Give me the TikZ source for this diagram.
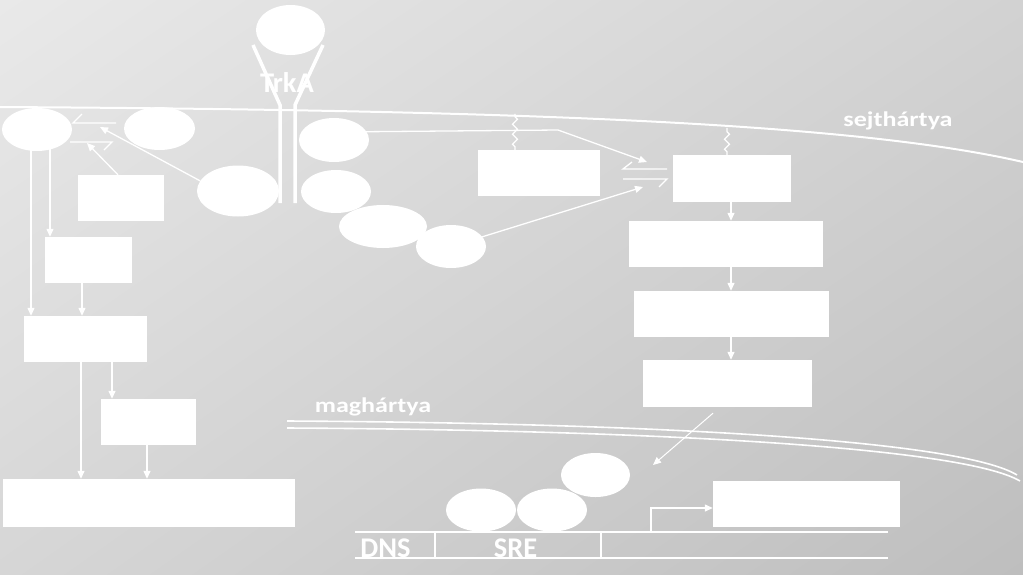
\documentclass[tikz,border=0pt]{standalone}
\usepackage{fontspec}
\setmainfont{Carlito}
\usetikzlibrary{shapes.geometric,arrows.meta,decorations.pathmorphing,calc,shadings}
\definecolor{bgUL}{HTML}{E9E9E9}
\definecolor{bgUR}{HTML}{D2D2D2}
\definecolor{bgLL}{HTML}{D6D6D6}
\definecolor{bgLR}{HTML}{BEBEBE}
\begin{document}
\begin{tikzpicture}[x=1pt,y=-1pt,
  ell/.style={ellipse, fill=white, draw=none, inner sep=0pt},
  box/.style={rectangle, fill=white, draw=none, inner sep=0pt},
  wh/.style 2 args={minimum width=#1pt, minimum height=#2pt},
  wire/.style={white, line width=1.3pt},
  arr/.style={wire, -{Triangle[length=8pt,width=7pt]}},
  mem/.style={white, line width=2pt},
  recep/.style={white, line width=3.5pt},
  zz/.style={wire, decorate, decoration={zigzag, amplitude=2.5pt, segment length=10pt, pre length=3pt, post length=3pt}},
  memlbl/.style={text=white, font=\bfseries\fontsize{21}{23}\selectfont, inner sep=0pt},
  biglbl/.style={text=white, font=\bfseries\fontsize{28.5}{30}\selectfont, inner sep=0pt}
]
\useasboundingbox (0,0) rectangle (1023,574);
\shade[upper left=bgUL, upper right=bgUR, lower left=bgLL, lower right=bgLR] (0,0) rectangle (1023,574);

% cell membrane
\draw[mem] (0,107) .. controls (500,110) and (850,122) .. (1023,162);
\node[memlbl, anchor=base] (sejt) at (898,126) {\scalebox{1.24}[1]{sejthártya}};

% nuclear membrane
\draw[mem, line width=1.6pt] (287,421) .. controls (650,423) and (960,440) .. (1017,475);
\draw[mem, line width=1.6pt] (287,428) .. controls (650,430) and (962,447) .. (1020,481);
\node[memlbl, anchor=base] (magh) at (373,412) {\scalebox{1.24}[1]{maghártya}};

% receptor
\node[ell, wh={69}{50}] (ngf) at (290.5,30) {};
\draw[recep] (253,45) -- (280,105) -- (280,203);
\draw[recep] (323,45) -- (295,105) -- (295,203);
\node[biglbl] (trka) at (287,82) {TrkA};

% left cluster
\node[ell, wh={70}{43}] (A) at (37,129.5) {};
\node[ell, wh={71}{43}] (B) at (159.5,128.5) {};
\node[ell, wh={82}{51}] (C) at (238,191) {};
\node[ell, wh={70}{44}] (D) at (334,140) {};
\node[ell, wh={70}{43}] (E) at (336,191.5) {};
\node[ell, wh={88}{43}] (F) at (383,226.5) {};
\node[ell, wh={70}{43}] (G) at (451,246.5) {};

\node[box, wh={86}{46}] (b1) at (121,198) {};
\node[box, wh={87}{46}] (b2) at (88.5,260) {};
\node[box, wh={123}{46}] (b3) at (85.5,339) {};
\node[box, wh={95}{46}] (b4) at (148.5,422) {};
\node[box, wh={292}{48}] (b5) at (149,503) {};

% right cluster
\node[box, wh={122}{46}] (H) at (539,173) {};
\node[box, wh={118}{47}] (I) at (732,178.5) {};
\node[box, wh={194}{46}] (J) at (726,244) {};
\node[box, wh={195}{46}] (K) at (731.5,314) {};
\node[box, wh={169}{47}] (L) at (727.5,383.5) {};
\node[box, wh={187}{46}] (M) at (806.5,504) {};

% nucleus
\node[ell, wh={69}{44}] (N3) at (595.5,475) {};
\node[ell, wh={70}{43}] (N1) at (481,510) {};
\node[ell, wh={70}{43}] (N2) at (552,510) {};

% equilibrium A <-> B
\coordinate (eqABu) at (100,127);
\coordinate (eqABl) at (87,143);
\draw[wire] (82,114) -- (73,123) -- (116,123);
\draw[wire] (70,142) -- (112,142) -- (104,150);
\draw[arr] (C.165) -- (eqABu);
\draw[arr] ([xshift=-3pt]b1.north) -- (eqABl);

% left vertical cascade
\draw[arr] ([xshift=13pt]A.center) -- ([xshift=13pt]A.center |- b2.north);
\draw[arr] ([xshift=-6pt]A.center) -- ([xshift=-6pt]A.center |- b3.north);
\draw[arr] ([xshift=-6.5pt]b2.center) -- ([xshift=-6.5pt]b2.center |- b3.north);
\draw[arr] ([xshift=26.5pt]b3.center) -- ([xshift=26.5pt]b3.center |- b4.north);
\draw[arr] ([xshift=-4.5pt]b3.center) -- ([xshift=-4.5pt]b3.center |- b5.north);
\draw[arr] ([xshift=-1.5pt]b4.center) -- ([xshift=-1.5pt]b4.center |- b5.north);

% equilibrium H <-> I
\coordinate (eqHIu) at (647,162);
\coordinate (eqHIl) at (643,187);
\coordinate (bendD) at (558,130);
\draw[wire] (632,162) -- (623,169) -- (667,169);
\draw[wire] (623,179) -- (667,179) -- (659,187);
\draw[arr] ([yshift=8pt]D.center) -- (bendD) -- (eqHIu);
\draw[arr] (G.center) -- (eqHIl);

% zigzag anchors to membrane
\draw[zz] ([xshift=-24pt]H.north) -- ++(0,-36);
\draw[zz] ([xshift=-5pt]I.north) -- ++(0,-27);

% right vertical cascade
\draw[arr] ([xshift=-1pt]I.south) -- ([xshift=-1pt]I.south |- J.north);
\draw[arr] ([xshift=5pt]J.south) -- ([xshift=5pt]J.south |- K.north);
\draw[arr] ([xshift=-0.5pt]K.south) -- ([xshift=-0.5pt]K.south |- L.north);
\coordinate (tfin) at (653,465);
\draw[arr, line width=1pt] ([shift={(-14.5pt,-6pt)}]L.south) -- (tfin);

% DNA
\draw[wire] (355,532) -- (888,532);
\draw[wire] (355,558) -- (888,558);
\draw[wire] (435,532) -- (435,558);
\draw[wire] (601,532) -- (601,558);
\node[biglbl, anchor=base] (dns) at (385.5,557) {DNS};
\node[biglbl, anchor=base] (sre) at (515.5,557) {SRE};
\coordinate (tss) at (651,532);
\draw[arr] (tss) |- ([yshift=-4pt]M.west);
\end{tikzpicture}
\end{document}
